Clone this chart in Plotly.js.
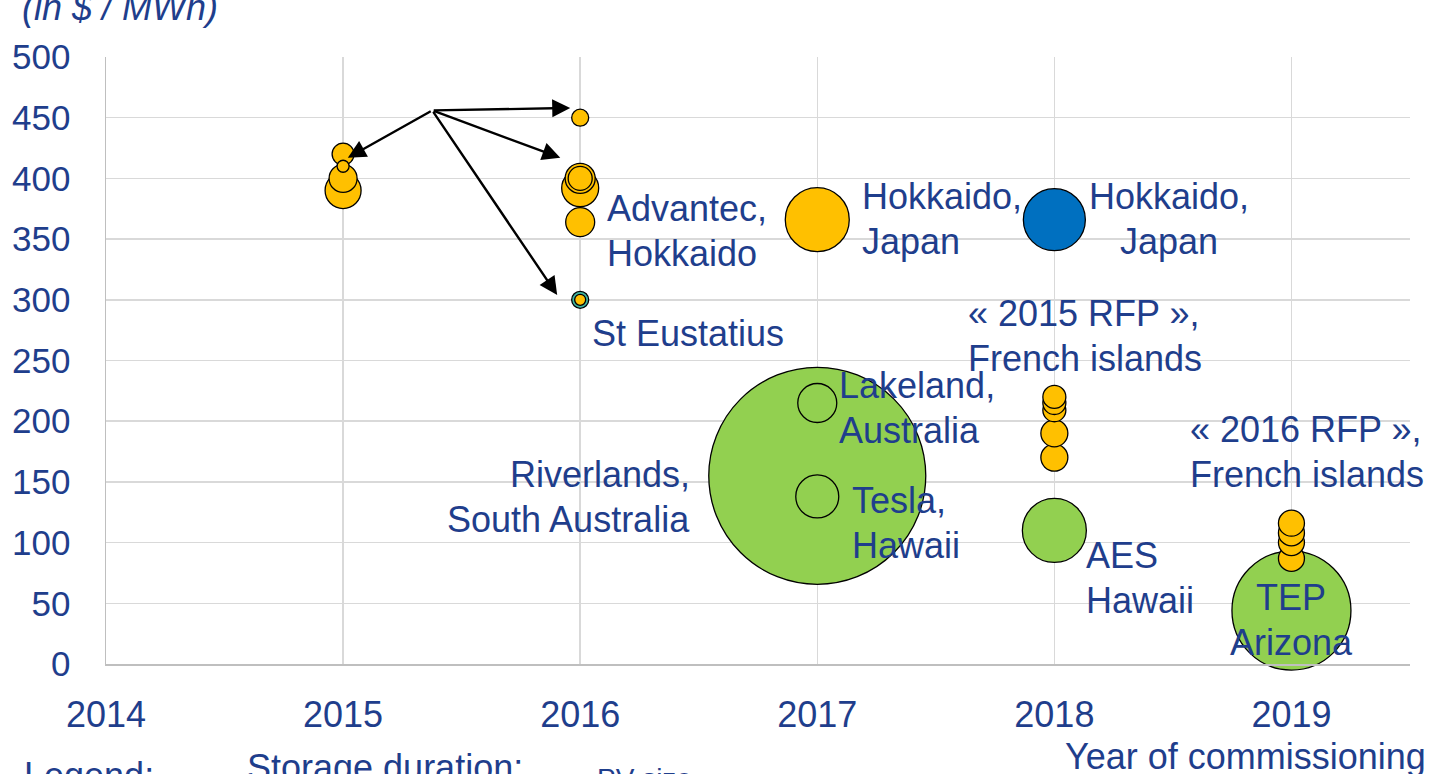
<!DOCTYPE html>
<html>
<head>
<meta charset="utf-8">
<script src="https://cdn.plot.ly/plotly-3.0.1.min.js"></script>
<style>html,body{margin:0;padding:0;background:#fff;}#chart{width:1435px;height:774px;}</style>
</head>
<body>
<div id="chart"></div>
<script>
// ---- data ----
const yearTicks = [2014, 2015, 2016, 2017, 2018, 2019];
const priceTicks = [0, 50, 100, 150, 200, 250, 300, 350, 400, 450, 500];

// Green bubbles (PV size)
const greenYear  = [2017, 2018, 2019];
const greenPrice = [155, 110, 44];
const greenSize  = [217, 64, 119];

// Small teal bubble (St Eustatius)
const tealYear  = [2016];
const tealPrice = [300];
const tealSize  = [17];

// Hollow circles (Lakeland, Tesla)
const hollowYear  = [2017, 2017];
const hollowPrice = [215, 138];
const hollowSize  = [39, 43];

// Yellow bubbles
const yellowYear  = [2015, 2015, 2015, 2015, 2016, 2016, 2016, 2016, 2016, 2016, 2017, 2018, 2018, 2018, 2018, 2018, 2019, 2019, 2019, 2019];
const yellowPrice = [390, 400, 420, 410, 364, 392, 400, 400, 450, 300, 366, 170, 190, 209, 215, 220, 87, 100, 108, 116];
const yellowSize  = [36, 28, 22, 12, 29, 37, 30, 24, 17, 11, 64, 27, 27, 23, 23, 23, 26, 26, 26, 26];

// Blue bubble
const blueYear  = [2018];
const bluePrice = [366];
const blueSize  = [62];

// 2011 RFP arrows: tail and heads
const arrowTail = {x: 2015.376, y: 456};
const arrowHeadX = [2015.958, 2015.916, 2015.903, 2015.02];
const arrowHeadY = [458, 417, 304, 417];

// ---- style ----
const TXT = '#1f3e8c';
const FONT = 'Liberation Sans, Arial, sans-serif';
const FS = 36;
const LINE = 45; // px between text lines

function bubble(x, y, s, fill) {
  return {
    type: 'scatter', mode: 'markers', x: x, y: y, cliponaxis: false,
    hoverinfo: 'skip', showlegend: false,
    marker: {size: s, sizemode: 'diameter', sizeref: 1, color: fill,
             line: {color: '#000', width: 1.3}, opacity: 1}
  };
}

const traces = [
  bubble(greenYear, greenPrice, greenSize, '#92d050'),
  bubble(tealYear, tealPrice, tealSize, '#3fb4a0'),
  bubble(hollowYear, hollowPrice, hollowSize, 'rgba(0,0,0,0)'),
  bubble(yellowYear, yellowPrice, yellowSize, '#ffc000'),
  bubble(blueYear, bluePrice, blueSize, '#0070c0')
];

const annotations = [];
function label(x, y, lines, anchor, opts) {
  lines.forEach((t, i) => {
    annotations.push(Object.assign({
      x: x, y: y, xref: 'x', yref: 'y', text: t, showarrow: false,
      xanchor: anchor, yanchor: 'middle', yshift: -LINE * i,
      font: {family: FONT, size: FS, color: TXT}
    }, opts || {}));
  });
}

label(2015.392, 529, ['« 2011 RFP »', 'French islands'], 'center');
label(2016.105, 375, ['Advantec,', 'Hokkaido'], 'left');
label(2016.042, 272, ['St Eustatius'], 'left');
label(2017.181, 385, ['Hokkaido,', 'Japan'], 'left');
label(2018.485, 385, ['Hokkaido,', 'Japan'], 'center');
label(2017.629, 289, ['« 2015 RFP »,', 'French islands'], 'left');
label(2017.084, 229, ['Lakeland,', 'Australia'], 'left');
label(2016.473, 156, ['Riverlands,', 'South Australia'], 'right');
label(2017.139, 135, ['Tesla,', 'Hawaii'], 'left');
label(2018.127, 89, ['AES', 'Hawaii'], 'left');
label(2018.565, 193, ['« 2016 RFP »,', 'French islands'], 'left');
label(2019.0, 55, ['TEP', 'Arizona'], 'center');

// texts outside the plot area (paper coordinates)
const P = {xref: 'paper', yref: 'paper'};
label(1.0138, -0.153, ['Year of commissioning'], 'right', P);
label(-0.066, 1.081, ['<i>(in $ / MWh)</i>'], 'left', P);
label(-0.0644, -0.183, ['Legend:'], 'left', P);
label(0.1066, -0.171, ['Storage duration:'], 'left', P);
label(0.375, -0.188, ['PV size'], 'left', Object.assign({font: {family: FONT, size: 28, color: TXT}}, P));

arrowHeadX.forEach((hx, i) => {
  annotations.push({
    x: hx, y: arrowHeadY[i], xref: 'x', yref: 'y',
    ax: arrowTail.x, ay: arrowTail.y, axref: 'x', ayref: 'y',
    text: '', showarrow: true, arrowhead: 2, arrowsize: 1.5,
    arrowwidth: 2.4, arrowcolor: '#000', standoff: 0
  });
});

const layout = {
  width: 1435, height: 774,
  margin: {l: 106, r: 25, t: 57, b: 110},
  paper_bgcolor: '#fff', plot_bgcolor: '#fff',
  showlegend: false,
  xaxis: {
    range: [2014, 2019.5], tickvals: yearTicks, ticktext: yearTicks.map(String),
    showgrid: true, gridcolor: '#d9d9d9', gridwidth: 1.5,
    zeroline: false, showline: true, linecolor: '#bfbfbf', linewidth: 2,
    ticks: '', ticklabelstandoff: 18,
    tickfont: {family: FONT, size: FS, color: TXT}, fixedrange: true
  },
  yaxis: {
    range: [0, 500], tickvals: priceTicks, ticktext: priceTicks.map(String),
    showgrid: true, gridcolor: '#d9d9d9', gridwidth: 1.5,
    zeroline: false, showline: true, linecolor: '#bfbfbf', linewidth: 1.5,
    ticks: '', ticklabelstandoff: 27,
    tickfont: {family: FONT, size: 35, color: TXT}, fixedrange: true
  },
  annotations: annotations
};

Plotly.newPlot('chart', traces, layout, {displayModeBar: false, staticPlot: true});
</script>
</body>
</html>
